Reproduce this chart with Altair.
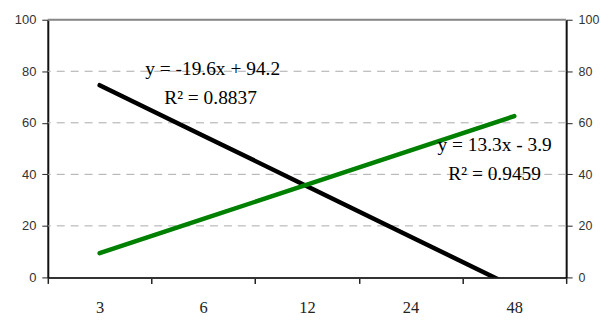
import altair as alt
import pandas as pd

categories = ["3", "6", "12", "24", "48"]
x_pos = [1, 2, 3, 4, 5]
black_values = [74.6, 55.0, 35.4, 15.8, -3.8]
green_values = [9.4, 22.7, 36.0, 49.3, 62.6]

label_text = ["y = -19.6x + 94.2", "R² = 0.8837", "y = 13.3x - 3.9", "R² = 0.9459"]
label_x = [2.09, 2.07, 4.81, 4.81]
label_y = [78.4, 67.2, 49.0, 37.8]

tick_pos = [0.5, 1.5, 2.5, 3.5, 4.5, 5.5]
y_ticks = [0, 20, 40, 60, 80, 100]
grid_values = [20, 40, 60, 80]
top_value = [100]

df = pd.DataFrame({
    "x": x_pos * 2,
    "value": black_values + green_values,
    "series": ["black"] * 5 + ["green"] * 5,
})
lab = pd.DataFrame({"text": label_text, "x": label_x, "y": label_y})
grid_df = pd.DataFrame({"g": grid_values})
top_df = pd.DataFrame({"g": top_value})

label_expr = "[" + ",".join(f"'{c}'" for c in categories) + ",''][round(datum.value - 0.5)]"

xscale = alt.Scale(domain=[0.5, 5.5], nice=False, zero=False)
yscale = alt.Scale(domain=[0, 100], nice=False)

x_axis = alt.Axis(values=tick_pos, grid=False, labelExpr=label_expr, labelOffset=52,
                  labelFont="Liberation Serif", labelFontSize=16.5, labelColor="#222",
                  labelPadding=16, tickSize=6, tickColor="#222", domainColor="#333",
                  domainWidth=2, tickWidth=1.5, labelFlush=False, title=None)
y_axis = alt.Axis(values=y_ticks, grid=False, labelFont="Liberation Sans", labelFontSize=13,
                  labelColor="#333", tickSize=6, tickColor="#222", domainColor="#111",
                  domainWidth=2, labelPadding=6, title=None)

X = alt.X("x:Q", scale=xscale, axis=x_axis)

grid = alt.Chart(grid_df).mark_rule(strokeDash=[8, 6], color="#aaaaaa", strokeWidth=1).encode(
    y=alt.Y("g:Q", scale=yscale, axis=y_axis),
)
top = alt.Chart(top_df).mark_rule(color="#888888", strokeWidth=2).encode(
    y=alt.Y("g:Q", scale=yscale, axis=y_axis),
)

lines = alt.Chart(df).mark_line(strokeWidth=4.5, clip=True, strokeCap="round").encode(
    x=X,
    y=alt.Y("value:Q", scale=yscale, axis=y_axis),
    color=alt.Color("series:N", scale=alt.Scale(domain=["black", "green"], range=["#000000", "#008000"]),
                    legend=None),
)

texts = alt.Chart(lab).mark_text(font="Liberation Serif", fontSize=19.5, color="#000",
                                 baseline="alphabetic", align="center").encode(
    x=X,
    y=alt.Y("y:Q", scale=yscale, axis=y_axis),
    text="text:N",
)

right = alt.Chart(df).mark_line(opacity=0).encode(
    x=X,
    y=alt.Y("value:Q", scale=yscale,
            axis=alt.Axis(orient="right", values=y_ticks, grid=False, labelFont="Liberation Sans",
                          labelFontSize=12.5, labelColor="#333", tickSize=6, tickColor="#222",
                          domainColor="#111", domainWidth=2, labelPadding=6, title=None)),
)

left_layer = alt.layer(grid, top, lines, texts)
chart = alt.layer(left_layer, right).resolve_scale(y="independent").properties(
    width=521, height=259,
    autosize=alt.AutoSizeParams(type="none"),
    padding={"left": 40, "top": 11, "right": 34, "bottom": 40},
).configure_view(stroke="#888888", strokeWidth=2).configure(background="white")

chart.save("out.html", embed_options={"renderer": "svg", "actions": False})
